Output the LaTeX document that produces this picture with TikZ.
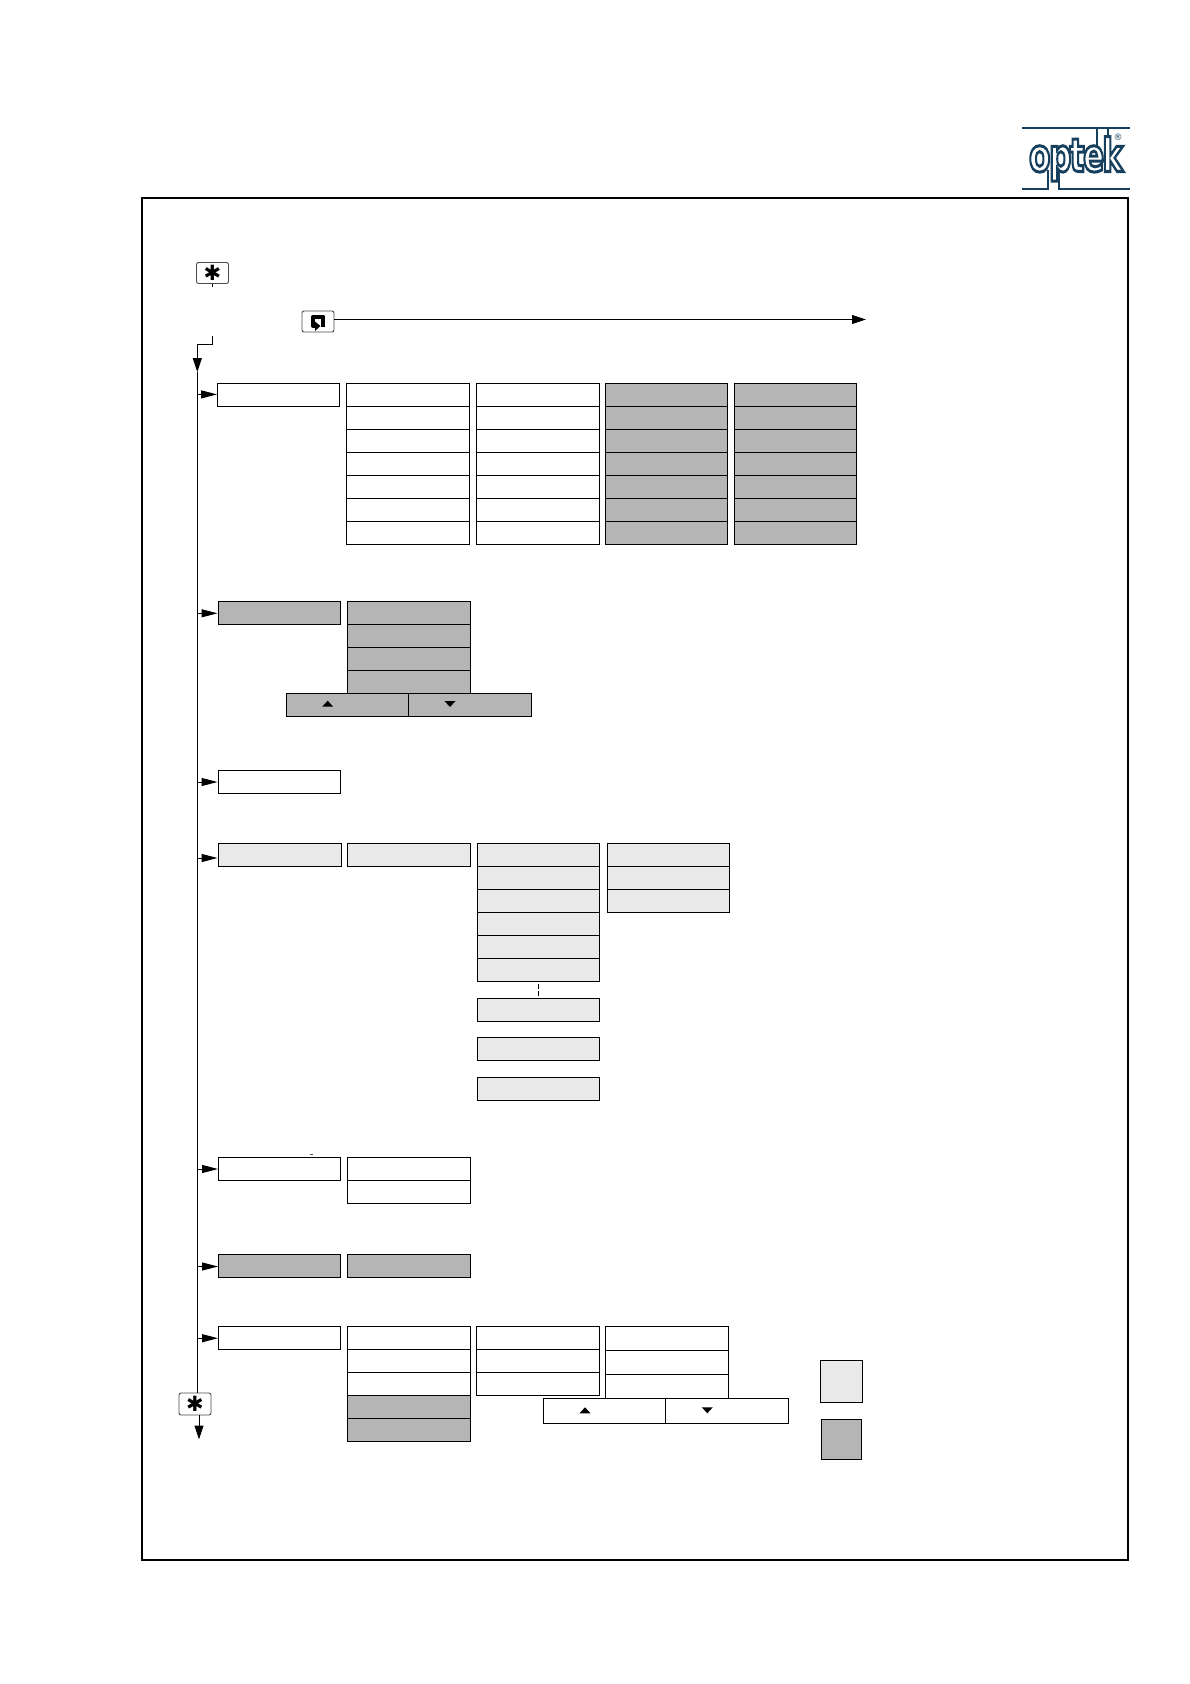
\documentclass[tikz,border=0pt]{standalone}
\usepackage{fontspec}
\setmainfont{DejaVu Sans}
\newfontfamily\logofont{DejaVu Sans Bold}
\usetikzlibrary{arrows.meta}
\definecolor{midgray}{HTML}{B5B5B5}
\definecolor{lightgray}{HTML}{E9E9E9}
\definecolor{logoblue}{HTML}{17405F}
\tikzset{
  cell/.style={draw=black,line width=1pt,inner sep=0pt,outer sep=0pt,fill=white},
  plain/.style={},
  dark/.style={fill=midgray},
  pale/.style={fill=lightgray},
  keybox/.style={draw=black!70,line width=.9pt,rounded corners=2pt,fill=white,inner sep=0pt,outer sep=0pt,font=\bfseries\fontsize{21}{21}\selectfont},
  flow/.style={draw=black,line width=1pt},
  tip/.style={flow,-{Triangle[length=14pt,width=9pt]}},
  rowtip/.style={flow,-{Triangle[length=16pt,width=8pt]}},
  marker/.style={fill=black,draw=none},
  logoline/.style={draw=logoblue,line width=2pt},
}
\newcommand\cell[6][plain]{%
  \pgfmathsetmacro\cw{#5-#3}\pgfmathsetmacro\ch{#6-#4}%
  \node[cell,#1,minimum width=\cw pt,minimum height=\ch pt,anchor=north west] (#2) at (#3,#4) {};}
% \stack[style]{prefix}{x1}{x2}{y0}{dy}{n}
\newcommand\stack[7][plain]{%
  \foreach \i in {1,...,#7}{%
    \pgfmathsetmacro\ya{#5+(\i-1)*#6}\pgfmathsetmacro\yb{#5+\i*#6}%
    \cell[#1]{#2\i}{#3}{\ya}{#4}{\yb}}}
\newcommand\up[2]{\fill[marker] (#1-5.5,#2+6) -- (#1+5.5,#2+6) -- (#1,#2) -- cycle;}
\newcommand\down[2]{\fill[marker] (#1-5.5,#2) -- (#1+5.5,#2) -- (#1,#2+6) -- cycle;}
\begin{document}
\begin{tikzpicture}[x=1pt,y=-1pt]
\useasboundingbox (0,0) rectangle (1190,1684);
% logo
\draw[logoline] (1022,127.5) -- (1130,127.5);
\draw[logoline] (1097,127.5) -- (1097,145);
\draw[logoline] (1108,127.5) -- (1108,150);
\draw[logoline] (1022,189) -- (1048,189) -- (1048,170);
\draw[logoline] (1059,170) -- (1059,189) -- (1130,189);
\node[text=white,inner sep=0pt,xscale=.68,anchor=base,font=\logofont\fontsize{46}{46}\selectfont] (logo) at (1076,171.5)
  {\special{pdf:code 2 Tr 3 w 0.09 0.25 0.37 RG}o\kern-2pt p\kern-3pt t\kern-2pt e\kern-3pt k\special{pdf:code 0 Tr}};
\node[text=logoblue,inner sep=0pt,font=\fontsize{9}{9}\selectfont] (reg) at (1118,137.7) {®};
% frame
\node[draw=black,line width=1.5pt,inner sep=0pt,outer sep=0pt,minimum width=986pt,minimum height=1362pt,anchor=north west] (frame) at (142,198) {};
% keys
\node[keybox,minimum width=32pt,minimum height=21pt] (k1) at (212.5,273) {✱};
\node[keybox,minimum width=32pt,minimum height=21pt] (k3) at (318,321.5) {};
\node[keybox,minimum width=32pt,minimum height=22pt] (k2) at (195,1404) {✱};
% return icon
\draw[line width=4pt,line join=round] (323.4,327) -- (323.4,316.5) -- (313,316.5) -- (313,326) -- (316,326);
\fill[marker] (315,321.5) -- (320.5,326) -- (315,331) -- cycle;
% row 1
\cell{a0}{217.5}{383.5}{339.5}{406.5}
\stack{ab}{346}{469.5}{383.5}{23.03}{7}
\stack{ac}{476}{599.5}{383.5}{23.03}{7}
\stack[dark]{ad}{605.5}{727.5}{383.5}{23.03}{7}
\stack[dark]{ae}{734}{856.5}{383.5}{23.03}{7}
% row 2
\cell[dark]{b0}{218}{601.5}{340.5}{624.5}
\stack[dark]{bb}{347}{470.5}{601.5}{23}{4}
\cell[dark]{bu}{286.5}{693.5}{408.5}{716.5}
\cell[dark]{bd}{408.5}{693.5}{531.5}{716.5}
\up{327.7}{700.7}
\down{450}{701}
% row 3
\cell{c0}{218}{770.5}{340.5}{793.5}
% row 4
\cell[pale]{d0}{218}{843.5}{341.5}{866.5}
\cell[pale]{db}{347}{843.5}{470.7}{866.5}
\stack[pale]{dc}{477}{599.5}{843.5}{23}{6}
\stack[pale]{dd}{607}{729.8}{843.5}{23}{3}
\cell[pale]{de}{477}{998.5}{599.5}{1021.5}
\cell[pale]{df}{477}{1037.5}{599.5}{1060.5}
\cell[pale]{dg}{477}{1077.5}{599.5}{1100.5}
\draw[flow,dashed,dash pattern=on 5pt off 2pt,line width=.8pt] (538.3,984) -- (538.3,996);
% row 5
\cell{e0}{218.5}{1157.5}{340.5}{1180.5}
\stack{eb}{347.5}{470.5}{1157.5}{23}{2}
\draw[line width=.7pt,black!70] (309.5,1154.3) -- (313,1154.3);
% row 6
\cell[dark]{f0}{218.5}{1254}{340.5}{1277}
\cell[dark]{fb}{347.5}{1254}{470.5}{1277}
% row 7
\cell{g0}{218.5}{1326.5}{340.5}{1349.5}
\stack{gb}{347.5}{470.5}{1326.5}{23}{3}
\cell[dark]{gb4}{347.5}{1395.5}{470.5}{1418.5}
\cell[dark]{gb5}{347.5}{1418.5}{470.5}{1441.5}
\stack{gc}{476.5}{599.5}{1326.5}{23}{3}
\stack{gd}{605.8}{728.5}{1326.5}{24}{3}
\cell{gu}{543.5}{1398.5}{665.5}{1423.5}
\cell{gv}{665.5}{1398.5}{788.5}{1423.5}
\up{585}{1407.3}
\down{707.3}{1407.3}
% legend
\cell[pale]{lp}{820.5}{1360.5}{862.5}{1402.5}
\cell[dark]{ld}{821.5}{1419.5}{861.5}{1459.5}
% connectors
\coordinate (s1) at (212.5,286.5);
\coordinate (s2) at (212.5,336);
\coordinate (s3) at (212.5,344.5);
\coordinate (t0) at (197.3,344.5);
\coordinate (t1) at (197.3,372);
\coordinate (rr) at (866,319.5);
\coordinate (e1) at (199,1439.5);
\draw[flow] (k1.south) -- (s1);
\draw[flow] (s2) -- (s3) -- (t0);
\draw[tip] (t0) -- (t1);
\draw[flow] (t1) -- (t0 |- k2.north);
\draw[tip] (k3.east |- rr) -- (rr);
\draw[tip] (e1 |- k2.south) -- (e1);
\foreach \n/\dy in {a0/-.6,b0/.3,c0/0,d0/3,e0/0,f0/1,g0/.2}{
  \draw[rowtip] ([yshift=-\dy pt]t0 |- \n.west) -- ([yshift=-\dy pt,xshift=-.5pt]\n.west);
}
\end{tikzpicture}
\end{document}
